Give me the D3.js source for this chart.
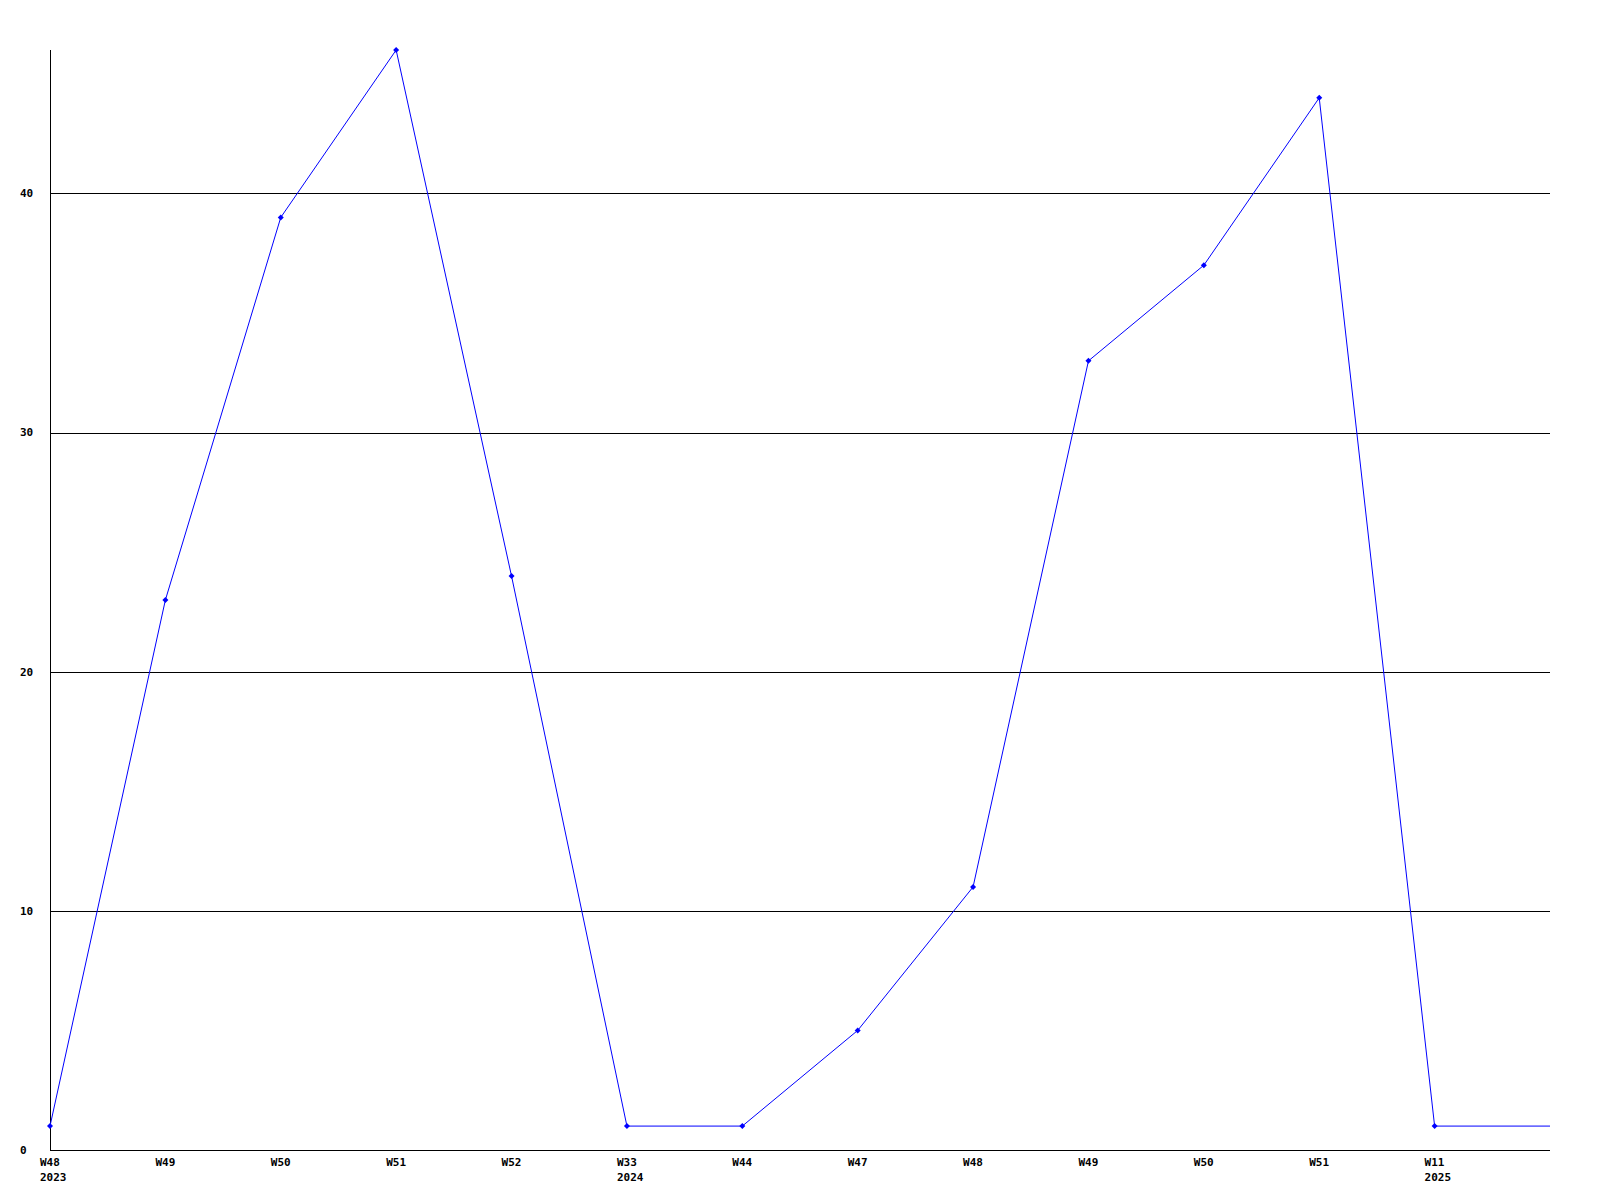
<!DOCTYPE html>
<html>
<head>
<meta charset="utf-8">
<script src="https://cdn.jsdelivr.net/npm/d3@7"></script>
<style>
  html, body { margin: 0; padding: 0; background: #fff; }
  svg { display: block; }
  text { font-family: "DejaVu Sans Mono", "Liberation Mono", monospace; font-weight: bold; font-size: 11px; fill: #000; }
</style>
</head>
<body>
<script>
const categories = ["c0","c1","c2","c3","c4","c5","c6","c7","c8","c9","c10","c11","c12","c13"];
const weekLabels = ["W48","W49","W50","W51","W52","W33","W44","W47","W48","W49","W50","W51","W11",""];
const yearLabels = ["2023","","","","","2024","","","","","","","2025",""];
const values = [1, 23, 39, 46, 24, 1, 1, 5, 11, 33, 37, 44, 1, 1];
const yTicks = [0, 10, 20, 30, 40];

const W = 1600, H = 1200;
const mLeft = 50, mRight = 1550, mTop = 50, mBottom = 1150;

const svg = d3.select("body").append("svg").attr("width", W).attr("height", H);

const x = d3.scalePoint().domain(categories).range([mLeft, mRight]);
const y = d3.scaleLinear().domain([0, 46]).range([mBottom, mTop]);

// gridlines
svg.append("g").selectAll("line").data(yTicks.filter(d => d > 0)).join("line")
  .attr("x1", mLeft).attr("x2", mRight)
  .attr("y1", d => Math.round(y(d)) + 0.5).attr("y2", d => Math.round(y(d)) + 0.5)
  .attr("stroke", "#000").attr("stroke-width", 1).attr("shape-rendering", "crispEdges");

// axes lines
svg.append("line").attr("x1", mLeft + 0.5).attr("x2", mLeft + 0.5).attr("y1", mTop).attr("y2", mBottom)
  .attr("stroke", "#000").attr("shape-rendering", "crispEdges");
svg.append("line").attr("x1", mLeft).attr("x2", mRight).attr("y1", mBottom + 0.5).attr("y2", mBottom + 0.5)
  .attr("stroke", "#000").attr("shape-rendering", "crispEdges");

// y labels
svg.append("g").selectAll("text").data(yTicks).join("text")
  .attr("x", 20).attr("y", d => y(d)).attr("dy", "0.35em")
  .text(d => d);

// x labels
const xl = svg.append("g").selectAll("g").data(categories).join("g")
  .attr("transform", d => `translate(${x(d) - 10},0)`);
xl.append("text").attr("x", 0).attr("y", 1166).text((d, i) => weekLabels[i]);
xl.append("text").attr("x", 0).attr("y", 1181).text((d, i) => yearLabels[i]);

// line
const line = d3.line().x((d, i) => x(categories[i])).y(d => y(d));
svg.append("path").datum(values).attr("d", line)
  .attr("fill", "none").attr("stroke", "#0000ff").attr("stroke-width", 1);

// markers
svg.append("g").selectAll("path").data(values.slice(0, values.length - 1)).join("path")
  .attr("transform", (d, i) => `translate(${x(categories[i])},${y(d)})`)
  .attr("d", "M0,-3L3,0L0,3L-3,0Z")
  .attr("fill", "#0000ff");
</script>
</body>
</html>
